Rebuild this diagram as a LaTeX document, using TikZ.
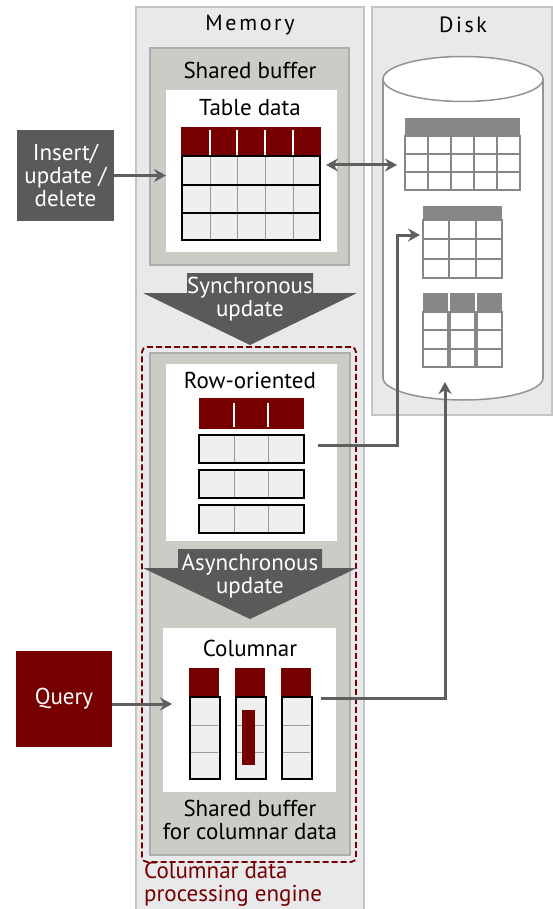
\documentclass[tikz,border=0pt]{standalone}
\usepackage{fontspec}
\setmainfont{PT Sans}
\newfontfamily\spacedfont[LetterSpace=12]{PT Sans}
\usetikzlibrary{arrows.meta}
\definecolor{panel}{HTML}{E8E9EB}
\definecolor{panelline}{HTML}{C4C4C4}
\definecolor{buf}{HTML}{CCCCC7}
\definecolor{bufline}{HTML}{ADADAD}
\definecolor{dred}{HTML}{760000}
\definecolor{dgray}{HTML}{5A5A5A}
\definecolor{cell}{HTML}{EFEFEF}
\definecolor{diskgray}{HTML}{878787}
\definecolor{arrgray}{HTML}{5F5F5F}
\newcommand\rnode[6][]{\node[rn,#1,minimum width={(#4-#2)*1pt},minimum height={(#5-#3)*1pt}] (#6) at (#2,#3) {};}
\begin{document}
\begin{tikzpicture}[x=1pt,y=-1pt,
  rn/.style={anchor=north west,inner sep=0pt,outer sep=0pt},
  panelbox/.style={fill=panel,draw=panelline,line width=1.5pt},
  bufbox/.style={fill=buf,draw=bufline,line width=2pt},
  whitebox/.style={fill=white},
  dashbox/.style={draw=dred,line width=1.8pt,dash pattern=on 6pt off 3pt,rounded corners=5pt},
  thickline/.style={black,line width=2.4pt},
  gridline/.style={draw=gray!80,line width=1pt},
  dcell/.style={draw=diskgray,line width=2pt,fill=white},
  arr/.style={draw=arrgray,line width=3pt,-{Stealth[length=12pt,width=13pt,inset=4pt]}},
  dbl/.style={draw=arrgray,line width=3pt,{Stealth[length=12pt,width=13pt,inset=4pt]}-{Stealth[length=12pt,width=13pt,inset=4pt]}},
  lbl/.style={font=\fontsize{23}{23}\selectfont,align=center,inner sep=0pt},
  wlbl/.style={lbl,text=white},
]
\useasboundingbox (0,0) rectangle (553,909);
% panels
\rnode[panelbox]{136}{7}{364}{920}{mem}
\rnode[panelbox]{372}{7}{552}{415}{disk}
\node[font=\spacedfont\fontsize{22}{24}\selectfont,inner sep=0pt] (memt) at (250,25) {Memory};
\node[font=\spacedfont\fontsize{22}{24}\selectfont,inner sep=0pt] (diskt) at (463,25) {Disk};

% shared buffer
\rnode[bufbox]{150}{48}{349}{265}{sb}
\node[lbl] (sbt) at (250,70) {Shared buffer};
\rnode[whitebox]{166}{90}{337}{252}{tdbox}
\node[lbl] (tdt) at (250,108) {Table data};
\rnode[fill=dred]{181}{127}{321}{156}{tdhead}
\foreach \x in {210,237,265,293} \draw[white,line width=1.5pt] (\x,130)--(\x,155);
\rnode[fill=cell]{182}{156}{320}{240}{tdgrid}
\foreach \x in {210,237,265,293} \draw[gridline] (\x,156)--(\x,240);
\foreach \y in {185,213} \draw[thickline] (182,\y)--(320,\y);
\draw[thickline] (tdgrid.north west) rectangle (tdgrid.south east);

% insert box
\rnode[fill=dgray]{17}{130}{114}{221}{ins}
\node[wlbl] at (ins.center) {Insert/\\update /\\delete};
\draw[arr] (ins.east) -- (ins.east -| tdbox.west);

% synchronous arrow
\fill[dgray] (187,273) -- (313,273) -- (313,293) -- (357,293) -- (250,345) -- (143,293) -- (187,293) -- cycle;
\node[wlbl] (sync) at (250,299) {Synchronous\\update};

% columnar engine
\rnode[bufbox]{150}{353}{350}{855}{cb}
\rnode[dashbox]{142}{347}{356}{862}{engine}
\rnode[whitebox]{166}{364}{337}{541}{robox}
\node[lbl] (rot) at (250,380) {Row-oriented};
\rnode[fill=dred]{199}{398}{304}{429}{rohead}
\foreach \x in {234,268} \draw[white,line width=1.5pt] (\x,403)--(\x,427);
\foreach \n/\y in {r1/435,r2/470,r3/505}{
  \rnode[fill=cell]{199}{\y}{304}{\y+28}{\n}
  \foreach \x in {234,268} \draw[gridline] (\x,\y)--(\x,\y+28);
  \draw[thickline] (\n.north west) rectangle (\n.south east);
}

% asynchronous arrow
\fill[dgray] (178,549) -- (322,549) -- (322,568) -- (357,568) -- (250,619) -- (143,568) -- (178,568) -- cycle;
\node[wlbl] (async) at (250,576) {Asynchronous\\update};

% columnar
\rnode[whitebox]{163}{628}{336}{792}{colbox}
\node[lbl] (colt) at (250,648) {Columnar};
\foreach \n/\x in {c1/189,c2/235,c3/281}{
  \rnode[fill=dred]{\x}{668}{\x+30}{697}{\n h}
  \rnode[fill=cell]{\x+1}{697}{\x+29}{779}{\n}
  \foreach \y in {725,752} \draw[gridline] (\x+1,\y)--(\x+29,\y);
  \draw[thickline] (\n.north west) rectangle (\n.south east);
}
\rnode[fill=dred]{242}{710}{255}{765}{sel}
\node[lbl] (sbc) at (250,820) {Shared buffer\\for columnar data};
\node[lbl,text=dred,align=left,anchor=west] (engt) at (144,884) {Columnar data\\processing engine};

% query
\rnode[fill=dred]{16}{651}{112}{747}{query}
\node[wlbl] at (query.center) {Query};
\coordinate (qy) at (0,704);
\draw[arr] (query.east |- qy) -- ([xshift=9pt]colbox.west |- qy);

% disk cylinder
\fill[white] (463,378) ellipse (80 and 22);
\fill[white] (383,79) rectangle (543,378);
\draw[diskgray!90,line width=1.5pt] (383,79) -- (383,378) (543,79) -- (543,378);
\begin{scope}
\clip (370,378) rectangle (552,412);
\draw[diskgray!90,line width=1.5pt] (463,378) ellipse (80 and 22);
\end{scope}
\draw[diskgray!90,line width=1.5pt,fill=white] (463,79) ellipse (80 and 22.5);

% disk table 1
\rnode[fill=diskgray]{405}{118}{520}{136}{dt1}
\foreach \i in {0,...,4} \foreach \j in {0,1,2}
  \draw[dcell] ({405+23*\i},{136+18*\j}) rectangle ({428+23*\i},{154+18*\j});
% disk table 2
\rnode[fill=diskgray]{423}{206}{502}{220}{dt2}
\foreach \i in {0,1,2} \foreach \j in {0,1,2}
  \draw[dcell] ({423+26.33*\i},{220+19.33*\j}) rectangle ({449.33+26.33*\i},{239.33+19.33*\j});
% disk table 3
\foreach \n/\x in {d1/423,d2/450,d3/477}{
  \rnode[fill=diskgray]{\x}{293}{\x+25}{312}{\n}
  \foreach \j in {0,1,2}
    \draw[dcell] (\x,{312+18.33*\j}) rectangle (\x+25,{330.33+18.33*\j});
}

% connectors
\coordinate (lv1) at (0,165);
\draw[dbl] ([xshift=6pt]tdgrid.east |- lv1) -- ([xshift=-8pt]dt1.west |- lv1);
\coordinate (k1) at (397,445);
\coordinate (lv2) at (0,235);
\draw[arr] ([xshift=14pt]r1.east |- k1) -- (k1) |- ([xshift=-3pt]dt2.west |- lv2);
\coordinate (cylbot) at (445,382);
\coordinate (lv3) at (0,698);
\draw[arr] ([xshift=9pt]c3.east |- lv3) -| (cylbot);
\end{tikzpicture}
\end{document}
